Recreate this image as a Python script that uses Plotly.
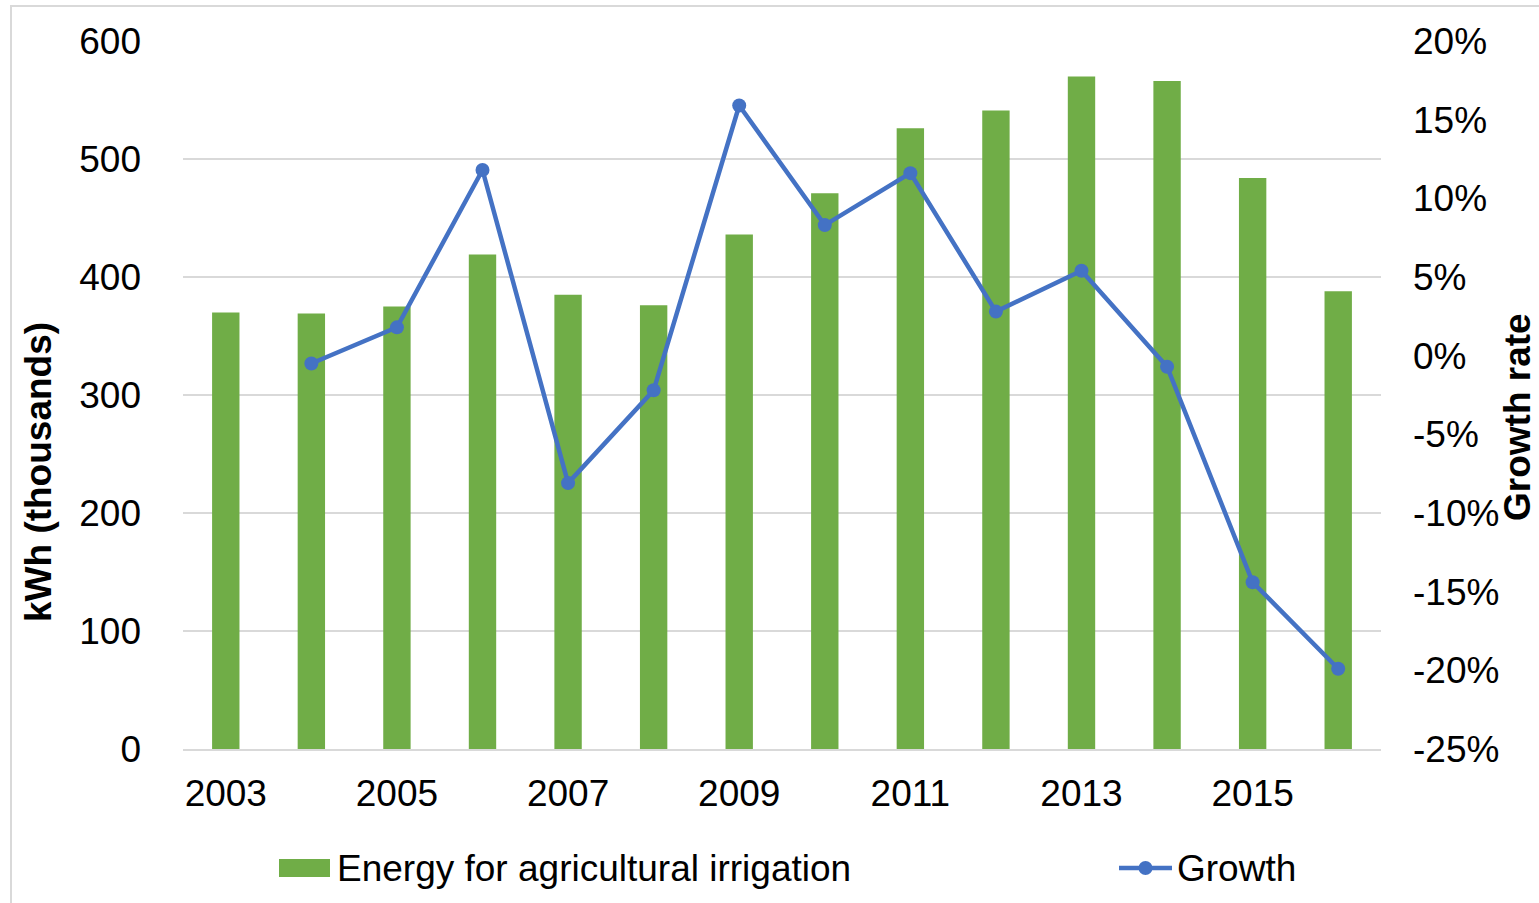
import plotly.graph_objects as go

# Annual irrigation energy use and its year-on-year growth
years = [2003, 2004, 2005, 2006, 2007, 2008, 2009, 2010, 2011, 2012, 2013, 2014, 2015, 2016]
energy_kwh_thousands = [370, 369, 375, 419, 385, 376, 436, 471, 526, 541, 570, 566, 484, 388]
growth_pct = [None, -0.5, 1.8, 11.8, -8.1, -2.2, 15.9, 8.3, 11.6, 2.8, 5.4, -0.7, -14.4, -19.9]

year_ticks = [2003, 2005, 2007, 2009, 2011, 2013, 2015]
left_ticks = [0, 100, 200, 300, 400, 500, 600]
right_ticks = [-25, -20, -15, -10, -5, 0, 5, 10, 15, 20]
right_tick_text = [f"{v}%" for v in right_ticks]

bar_name = "Energy for agricultural irrigation"
line_name = "Growth"

GREEN = "#70AD47"
BLUE = "#4472C4"
GRID = "#D9D9D9"
FONT = "Liberation Sans, Arial, sans-serif"
FS = 37

W, H = 1539, 903
L, R, T, B = 183, 158, 41, 154
PW, PH = W - L - R, H - T - B


def px_x(p):
    return (p - L) / PW


def px_y(p):
    return (H - B - p) / PH


fig = go.Figure()
fig.add_trace(go.Bar(
    x=years, y=energy_kwh_thousands, name=bar_name,
    marker=dict(color=GREEN, line=dict(width=0)), width=0.32,
    showlegend=False,
))
fig.add_trace(go.Scatter(
    x=years, y=growth_pct, name=line_name, yaxis="y2",
    mode="lines+markers",
    line=dict(color=BLUE, width=4.5),
    marker=dict(color=BLUE, size=14),
    showlegend=False,
))

shapes = [
    # chart border
    dict(type="rect", xref="paper", yref="paper",
         x0=px_x(11), x1=px_x(W + 20), y0=px_y(H + 20), y1=px_y(6),
         line=dict(color=GRID, width=2), fillcolor="rgba(0,0,0,0)", layer="below"),
    # legend: bar swatch
    dict(type="rect", xref="paper", yref="paper",
         x0=px_x(279), x1=px_x(330), y0=px_y(877), y1=px_y(859),
         line=dict(width=0), fillcolor=GREEN),
    # legend: line sample
    dict(type="line", xref="paper", yref="paper",
         x0=px_x(1119), x1=px_x(1172), y0=px_y(868), y1=px_y(868),
         line=dict(color=BLUE, width=4.5)),
    dict(type="circle", xref="paper", yref="paper",
         x0=px_x(1138.5), x1=px_x(1152.5), y0=px_y(875), y1=px_y(861),
         line=dict(width=0), fillcolor=BLUE),
]

annotations = [
    dict(text=bar_name, xref="paper", yref="paper", x=px_x(335), y=px_y(868),
         xanchor="left", yanchor="middle", showarrow=False,
         font=dict(family=FONT, size=FS, color="black")),
    dict(text=line_name, xref="paper", yref="paper", x=px_x(1175), y=px_y(868),
         xanchor="left", yanchor="middle", showarrow=False,
         font=dict(family=FONT, size=FS, color="black")),
    dict(text="<b>kWh (thousands)</b>", xref="paper", yref="paper",
         x=px_x(38), y=px_y(472), xanchor="center", yanchor="middle",
         textangle=-90, showarrow=False,
         font=dict(family=FONT, size=FS, color="black")),
    dict(text="<b>Growth rate</b>", xref="paper", yref="paper",
         x=px_x(1517), y=px_y(417), xanchor="center", yanchor="middle",
         textangle=-90, showarrow=False,
         font=dict(family=FONT, size=FS, color="black")),
]

fig.update_layout(
    width=W, height=H,
    margin=dict(l=L, r=R, t=T, b=B, autoexpand=False),
    paper_bgcolor="white", plot_bgcolor="white",
    font=dict(family=FONT, size=FS, color="black"),
    showlegend=False,
    xaxis=dict(
        range=[2002.5, 2016.5], tickvals=year_ticks,
        ticktext=[str(y) for y in year_ticks],
        showgrid=False, zeroline=False,
        showline=True, linecolor=GRID, linewidth=1.5,
        ticks="", ticklabelstandoff=11,
        tickfont=dict(family=FONT, size=FS, color="black"),
    ),
    yaxis=dict(
        range=[0, 600], tickvals=left_ticks,
        ticktext=[str(v) for v in left_ticks],
        showgrid=True, gridcolor=GRID, gridwidth=1.5,
        zeroline=False, showline=False, ticks="",
        ticklabelstandoff=41,
        tickfont=dict(family=FONT, size=FS, color="black"),
    ),
    yaxis2=dict(
        overlaying="y", side="right",
        range=[-25, 20], tickvals=right_ticks, ticktext=right_tick_text,
        showgrid=False, zeroline=False, showline=False, ticks="",
        ticklabelstandoff=31,
        tickfont=dict(family=FONT, size=FS, color="black"),
    ),
    shapes=shapes,
    annotations=annotations,
)

fig.write_html("out.html")
